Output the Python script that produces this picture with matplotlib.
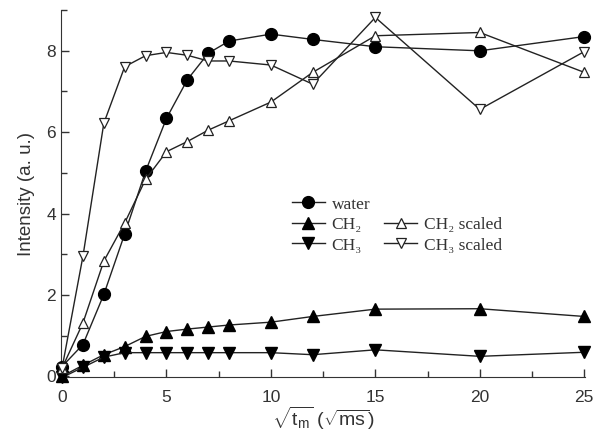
import numpy as np
import matplotlib
matplotlib.use('Agg')
import matplotlib.pyplot as plt
from matplotlib.lines import Line2D
from matplotlib.ticker import MultipleLocator

plt.rcParams['font.family'] = ['Liberation Sans', 'DejaVu Sans']
plt.rcParams['mathtext.fontset'] = 'custom'
plt.rcParams['mathtext.rm'] = 'Liberation Sans'
plt.rcParams['mathtext.it'] = 'Liberation Sans'

# sqrt(t_m) in sqrt(ms)
x = [0, 1, 2, 3, 4, 5, 6, 7, 8, 10, 12, 15, 20, 25]
water = [0.24, 0.78, 2.01, 3.50, 5.04, 6.34, 7.29, 7.94, 8.24, 8.41, 8.28, 8.10, 8.00, 8.35]
ch2 = [0.0, 0.27, 0.53, 0.73, 0.98, 1.10, 1.16, 1.21, 1.26, 1.33, 1.47, 1.65, 1.66, 1.47]
ch3 = [-0.03, 0.22, 0.47, 0.58, 0.58, 0.58, 0.58, 0.58, 0.58, 0.58, 0.53, 0.65, 0.49, 0.59]
ch2_scaled = [0.2, 1.31, 2.83, 3.77, 4.84, 5.52, 5.77, 6.05, 6.28, 6.74, 7.47, 8.37, 8.45, 7.47]
ch3_scaled = [0.2, 2.95, 6.22, 7.61, 7.88, 7.96, 7.89, 7.75, 7.75, 7.65, 7.18, 8.82, 6.56, 7.98]

fig = plt.figure(figsize=(6.04, 4.40), dpi=100)
ax = fig.add_axes([0.101, 0.143, 0.868, 0.834])

lc = '#222222'
kw = dict(color=lc, lw=1.0, clip_on=False, zorder=3)
h_w, = ax.plot(x, water, marker='o', ms=8.5, mfc='k', mec='k', **kw)
h_2, = ax.plot(x, ch2, marker='^', ms=8, mfc='k', mec='k', **kw)
h_3, = ax.plot(x, ch3, marker='v', ms=8, mfc='k', mec='k', **kw)
h_2s, = ax.plot(x, ch2_scaled, marker='^', ms=7.5, mfc='white', mec=lc, mew=0.9, **kw)
h_3s, = ax.plot(x, ch3_scaled, marker='v', ms=7.5, mfc='white', mec=lc, mew=0.9, **kw)

blank = Line2D([], [], linestyle='none')
leg = ax.legend([h_w, h_2, h_3, blank, h_2s, h_3s],
                ['water', 'CH₂', 'CH₃', '', 'CH₂ scaled', 'CH₃ scaled'],
                ncol=2, frameon=False, loc='upper left',
                bbox_to_anchor=(0.41, 0.535), handlelength=1.9,
                handletextpad=0.4, columnspacing=0.8, labelspacing=0.25,
                prop={'family': ['Liberation Serif', 'DejaVu Serif'], 'size': 12.5})
for t in leg.get_texts():
    t.set_color('#333333')

ax.set_xlim(-0.05, 25.05)
ax.set_ylim(-0.02, 9)
ax.xaxis.set_major_locator(MultipleLocator(5))
ax.xaxis.set_minor_locator(MultipleLocator(2.5))
ax.yaxis.set_major_locator(MultipleLocator(2))
ax.yaxis.set_minor_locator(MultipleLocator(1))
ax.tick_params(which='both', direction='in', colors='#333333', labelsize=12.5)
ax.tick_params(which='major', length=6, width=1)
ax.tick_params(which='minor', length=4, width=1)
ax.tick_params(axis='x', pad=9)
for s in ['top', 'right']:
    ax.spines[s].set_visible(False)
for s in ['left', 'bottom']:
    ax.spines[s].set_color('#333333')

ax.set_xlabel(r'$\sqrt{\mathrm{t_m}}$ ($\sqrt{\mathrm{ms}}$)', fontsize=14, color='#333333', labelpad=0)
ax.set_ylabel('Intensity (a. u.)', fontsize=13.5, color='#333333', labelpad=8)

fig.savefig('out.png', dpi=100)
